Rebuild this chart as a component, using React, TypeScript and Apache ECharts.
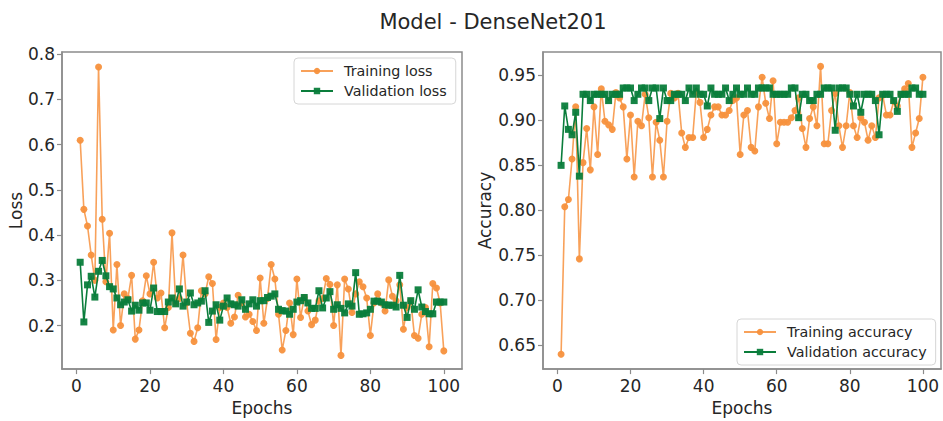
import React, { useEffect, useRef } from "react";
import * as echarts from "echarts";

const epochs: number[] = Array.from({ length: 100 }, (_, i) => i + 1);

const trainLoss = [
  0.61, 0.457, 0.42, 0.356, 0.3, 0.772, 0.435, 0.297, 0.404, 0.19,
  0.335, 0.2, 0.27, 0.26, 0.311, 0.17, 0.19, 0.255, 0.31, 0.27,
  0.34, 0.261, 0.272, 0.195, 0.24, 0.405, 0.25, 0.26, 0.356, 0.25,
  0.183, 0.165, 0.195, 0.277, 0.27, 0.308, 0.293, 0.169, 0.24, 0.25,
  0.24, 0.205, 0.219, 0.267, 0.25, 0.219, 0.225, 0.209, 0.189, 0.305,
  0.205, 0.26, 0.335, 0.303, 0.225, 0.146, 0.189, 0.25, 0.18, 0.303,
  0.218, 0.262, 0.232, 0.202, 0.212, 0.255, 0.26, 0.304, 0.291, 0.2,
  0.29, 0.134, 0.303, 0.281, 0.229, 0.27, 0.297, 0.286, 0.261, 0.178,
  0.25, 0.27, 0.25, 0.232, 0.301, 0.265, 0.255, 0.29, 0.192, 0.24,
  0.254, 0.178, 0.172, 0.225, 0.24, 0.153, 0.293, 0.283, 0.25, 0.144,
];

const valLoss = [
  0.34, 0.208, 0.29, 0.309, 0.263, 0.32, 0.344, 0.31, 0.286, 0.281,
  0.261, 0.246, 0.252, 0.257, 0.232, 0.245, 0.234, 0.25, 0.25, 0.234,
  0.283, 0.231, 0.231, 0.231, 0.252, 0.261, 0.248, 0.281, 0.243, 0.252,
  0.272, 0.246, 0.25, 0.254, 0.277, 0.207, 0.232, 0.246, 0.212, 0.243,
  0.261, 0.248, 0.246, 0.243, 0.257, 0.236, 0.248, 0.257, 0.243, 0.255,
  0.255, 0.262, 0.265, 0.27, 0.236, 0.233, 0.232, 0.225, 0.236, 0.252,
  0.255, 0.262, 0.25, 0.238, 0.238, 0.277, 0.239, 0.261, 0.275, 0.236,
  0.246, 0.238, 0.228, 0.248, 0.243, 0.317, 0.225, 0.226, 0.228, 0.236,
  0.254, 0.254, 0.252, 0.246, 0.245, 0.245, 0.241, 0.311, 0.245, 0.218,
  0.255, 0.236, 0.279, 0.241, 0.231, 0.226, 0.226, 0.252, 0.252, 0.252,
];

const trainAcc = [
  0.64, 0.804, 0.812, 0.857, 0.915, 0.746, 0.853, 0.891, 0.845, 0.915,
  0.862, 0.935, 0.899, 0.895, 0.89, 0.931, 0.925, 0.915, 0.857, 0.906,
  0.837, 0.899, 0.894, 0.929, 0.903, 0.837, 0.898, 0.878, 0.837, 0.899,
  0.93, 0.925, 0.93, 0.886, 0.87, 0.881, 0.881, 0.932, 0.92, 0.881,
  0.89, 0.906, 0.915, 0.915, 0.906, 0.906, 0.911, 0.922, 0.925, 0.862,
  0.906, 0.911, 0.87, 0.866, 0.915, 0.948, 0.919, 0.902, 0.944, 0.874,
  0.898, 0.898, 0.898, 0.903, 0.911, 0.925, 0.891, 0.87, 0.902, 0.915,
  0.894, 0.96, 0.874, 0.874, 0.911, 0.93, 0.894, 0.87, 0.894, 0.931,
  0.894, 0.881, 0.903, 0.898, 0.878, 0.894, 0.881, 0.925, 0.928, 0.906,
  0.906, 0.921, 0.916, 0.929, 0.935, 0.941, 0.87, 0.886, 0.902, 0.948,
];

const valAcc = [
  0.85, 0.916, 0.89, 0.884, 0.909, 0.838, 0.929, 0.929, 0.922, 0.929,
  0.929, 0.929, 0.929, 0.922, 0.929, 0.929, 0.929, 0.936, 0.936, 0.936,
  0.922, 0.929, 0.936, 0.936, 0.922, 0.936, 0.936, 0.902, 0.936, 0.922,
  0.922, 0.929, 0.929, 0.929, 0.922, 0.936, 0.929, 0.936, 0.929, 0.929,
  0.916, 0.936, 0.929, 0.929, 0.929, 0.936, 0.922, 0.929, 0.936, 0.929,
  0.929, 0.936, 0.929, 0.929, 0.936, 0.936, 0.936, 0.936, 0.929, 0.929,
  0.929, 0.929, 0.929, 0.936, 0.936, 0.903, 0.929, 0.929, 0.922, 0.922,
  0.929, 0.929, 0.936, 0.936, 0.936, 0.889, 0.936, 0.936, 0.936, 0.929,
  0.916, 0.929, 0.909, 0.929, 0.929, 0.929, 0.922, 0.884, 0.929, 0.929,
  0.929, 0.922, 0.91, 0.929, 0.929, 0.929, 0.936, 0.936, 0.929, 0.929,
];

const xTicks = [0, 20, 40, 60, 80, 100];
const lossTicks = [0.2, 0.3, 0.4, 0.5, 0.6, 0.7, 0.8];
const accTicks = [0.65, 0.7, 0.75, 0.8, 0.85, 0.9, 0.95];

const TITLE = "Model - DenseNet201";
const FONT = "DejaVu Sans";
const ORANGE = "#f7913d";
const GREEN = "#0a7d3b";
const FRAME = "#8c8c8c";
const TEXT = "#262626";

function pairs(ys: number[]) {
  return epochs.map((e, i) => [e, ys[i]]);
}

export default function App() {
  const ref = useRef<HTMLDivElement>(null);
  useEffect(() => {
    if (!ref.current) return;
    const chart = echarts.init(ref.current, null, { renderer: "svg" });

    const xAxisBase = (gridIndex: number) => ({
      type: "value",
      gridIndex,
      min: -3.95,
      max: 104.95,
      name: "Epochs",
      nameLocation: "middle",
      nameGap: 29,
      nameTextStyle: { fontFamily: FONT, fontSize: 17, color: TEXT },
      axisLine: { show: true, onZero: false, lineStyle: { color: FRAME, width: 1.5 } },
      axisTick: { show: true, inside: false, length: 5, lineStyle: { color: FRAME, width: 1.2 }, customValues: xTicks },
      axisLabel: { fontFamily: FONT, fontSize: 17, color: TEXT, margin: 8, customValues: xTicks, formatter: (v: number) => String(v) },
      splitLine: { show: false },
    });

    const yAxisBase = (gridIndex: number, min: number, max: number, ticks: number[], digits: number, name: string, gap: number) => ({
      type: "value",
      gridIndex,
      min,
      max,
      name,
      nameLocation: "middle",
      nameRotate: 90,
      nameGap: gap,
      nameTextStyle: { fontFamily: FONT, fontSize: 17, color: TEXT },
      axisLine: { show: true, onZero: false, lineStyle: { color: FRAME, width: 1.5 } },
      axisTick: { show: true, inside: false, length: 5, lineStyle: { color: FRAME, width: 1.2 }, customValues: ticks },
      axisLabel: { fontFamily: FONT, fontSize: 17, color: TEXT, margin: 7, customValues: ticks, formatter: (v: number) => v.toFixed(digits) },
      splitLine: { show: false },
    });

    const lineSeries = (name: string, data: number[], idx: number, color: string, symbol: string, size: number, lineOpacity: number, z: number) => ({
      type: "line",
      name,
      xAxisIndex: idx,
      yAxisIndex: idx,
      data: pairs(data),
      symbol,
      symbolSize: size,
      showAllSymbol: true,
      lineStyle: { color, width: 1.6, opacity: lineOpacity },
      itemStyle: { color, opacity: 0.95 },
      z,
    });

    const legendBase = {
      orient: "vertical",
      backgroundColor: "rgba(255,255,255,0.8)",
      borderColor: "#d6d6d6",
      borderWidth: 1,
      borderRadius: 4,
      padding: [6, 9, 6, 6],
      itemGap: 6,
      itemWidth: 32,
      itemHeight: 8,
      textStyle: { fontFamily: FONT, fontSize: 14.3, color: TEXT, padding: [0, 0, 0, 6] },
    };

    chart.setOption({
      animation: false,
      backgroundColor: "#ffffff",
      title: {
        text: TITLE,
        left: 488,
        top: 6,
        textAlign: "center",
        textStyle: { fontFamily: FONT, fontSize: 21, fontWeight: "normal", color: TEXT },
      },
      grid: [
        { left: 62, top: 52, width: 400, height: 324, show: true, borderColor: FRAME, borderWidth: 1.5, backgroundColor: "transparent" },
        { left: 543, top: 52, width: 398, height: 324, show: true, borderColor: FRAME, borderWidth: 1.5, backgroundColor: "transparent" },
      ],
      xAxis: [xAxisBase(0), xAxisBase(1)],
      yAxis: [
        yAxisBase(0, 0.1037, 0.805, lossTicks, 1, "Loss", 36),
        yAxisBase(1, 0.6235, 0.976, accTicks, 2, "Accuracy", 50),
      ],
      legend: [
        { ...legendBase, data: ["Training loss", "Validation loss"], left: 294, top: 58 },
        { ...legendBase, data: ["Training accuracy", "Validation accuracy"], left: 737, top: 319 },
      ],
      series: [
        lineSeries("Training loss", trainLoss, 0, ORANGE, "circle", 7, 0.85, 2),
        lineSeries("Validation loss", valLoss, 0, GREEN, "rect", 7, 1, 3),
        lineSeries("Training accuracy", trainAcc, 1, ORANGE, "circle", 7, 0.85, 2),
        lineSeries("Validation accuracy", valAcc, 1, GREEN, "rect", 7, 1, 3),
      ],
    });
    return () => chart.dispose();
  }, []);

  return (
    <div
      ref={ref}
      style={{ position: "fixed", left: 0, top: 0, width: 943, height: 421, background: "#fff" }}
    />
  );
}
